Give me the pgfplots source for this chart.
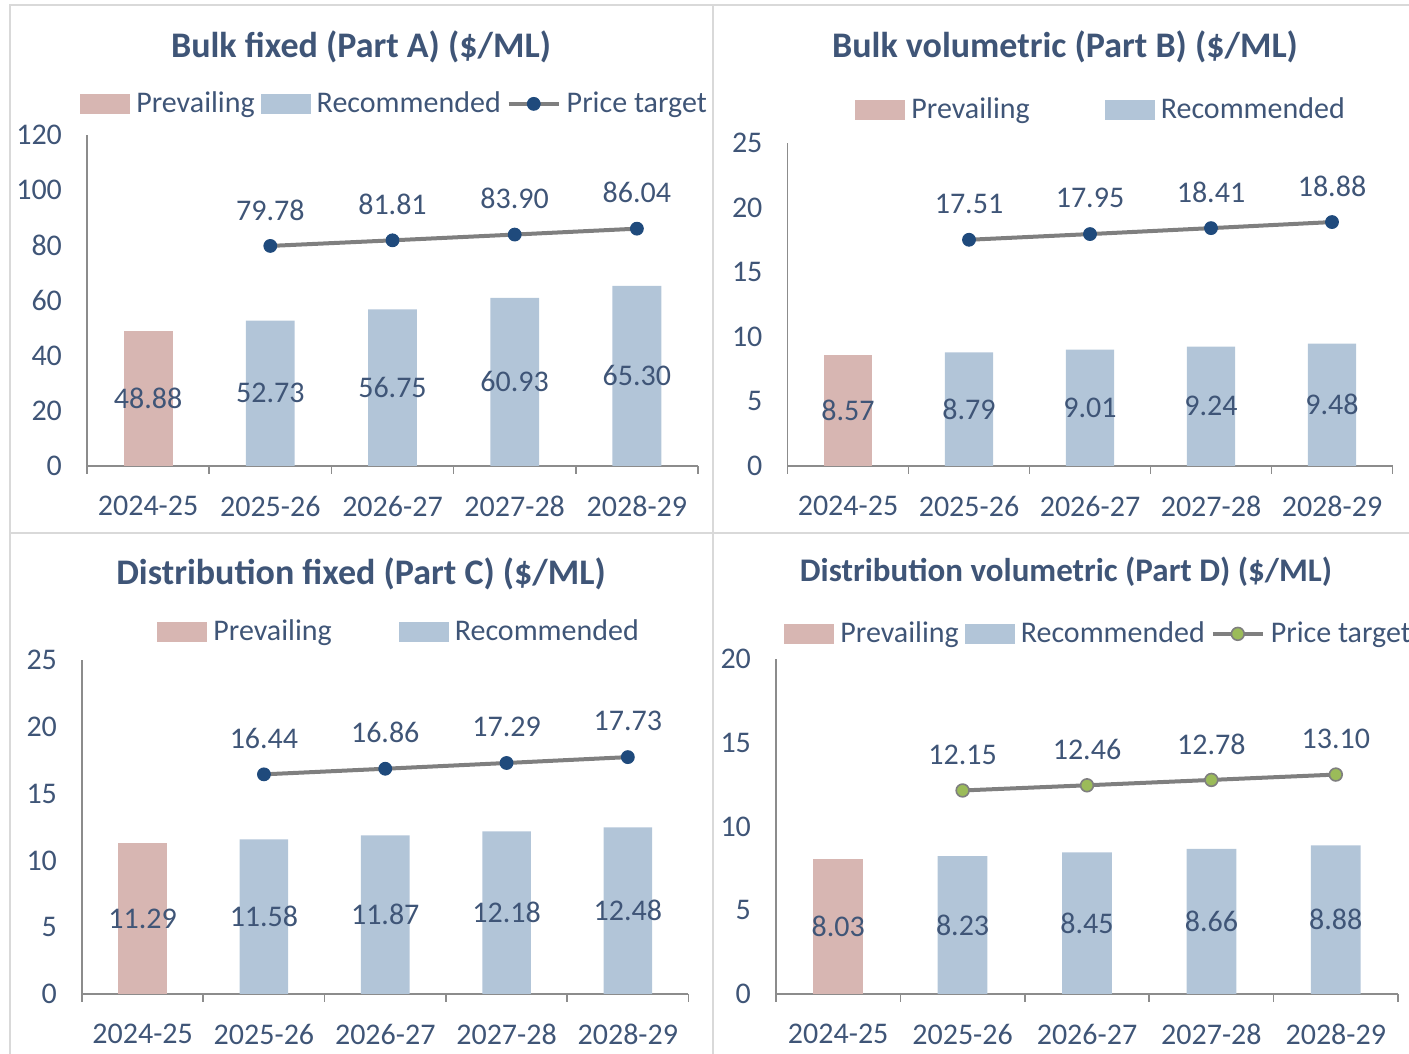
\documentclass[border=0pt]{standalone}
\usepackage{fontspec}
\setmainfont{Carlito}
\usepackage{pgfplots}
\pgfplotsset{compat=1.18}

\definecolor{prevc}{HTML}{D7B6B2}
\definecolor{recc}{HTML}{B2C5D8}
\definecolor{textc}{HTML}{3F5577}
\definecolor{linec}{HTML}{7F7F7F}
\definecolor{markc}{HTML}{1F4A7C}
\definecolor{greenc}{HTML}{9BBB59}
\definecolor{axisc}{HTML}{8C8C8C}
\definecolor{framec}{HTML}{D9D9D9}

\pgfplotsset{
  panel/.style={
    scale only axis, anchor=south west, clip=false,
    xmin=-0.5, xmax=4.5, ymin=0,
    axis x line*=bottom, axis y line*=left,
    axis line style={draw=axisc, line width=0.8pt},
    xtick={-0.5,0.5,...,4.5},
    x tick label as interval,
    xticklabels={2024-25,2025-26,2026-27,2027-28,2028-29},
    tick align=outside, major tick length=4pt,
    xtick style={draw=axisc, line width=0.8pt},
    ytick style={draw=none},
    font=\fontsize{15}{18}\selectfont,
    tick label style={text=textc},
    xticklabel style={yshift=-7.5pt},
    yticklabel style={xshift=-5pt},
    /pgf/number format/assume math mode=true,
    legend style={draw=none, fill=none, anchor=west, legend columns=-1,
      inner xsep=0pt, inner ysep=0pt, text=textc,
      nodes={inner xsep=3pt, inner ysep=1pt}},
  },
  barleg/.style={legend image code/.code={\path[##1,draw=none] (0pt,-5pt) rectangle (25pt,5pt);}},
  lineleg/.style={legend image code/.code={\draw[mark repeat=2,mark phase=2,##1] plot coordinates {(0pt,0pt) (12.5pt,0pt) (25pt,0pt)};}},
  prevbar/.style={ybar, bar width=0.4, bar shift=0pt, fill=prevc, draw=none, barleg, barlab},
  recbar/.style={ybar, bar width=0.4, bar shift=0pt, fill=recc, draw=none, barleg, barlab},
  barlab/.style={
    nodes near coords={\pgfmathprintnumber[fixed,fixed zerofill,precision=2]{\pgfplotspointmeta}},
    visualization depends on={y \as \rawy},
    every node near coord/.append style={anchor=center, text=textc, shift={(axis direction cs:0,-\rawy/2)}}},
  target/.style={linec, line width=2pt, mark=*, mark size=3.2pt,
    mark options={fill=markc, draw=markc, line width=0.5pt}, lineleg,
    nodes near coords={\pgfmathprintnumber[fixed,fixed zerofill,precision=2]{\pgfplotspointmeta}},
    every node near coord/.append style={anchor=center, yshift=18pt, text=textc}},
}

\begin{document}
\begin{tikzpicture}
\useasboundingbox (0pt,0pt) rectangle (704.5pt,527pt);
\clip (0pt,0pt) rectangle (704.5pt,527pt);

% panel frames
\draw[framec, line width=0.6pt] (5pt,0pt) -- (5pt,524.5pt) -- (704.5pt,524.5pt);
\draw[framec, line width=0.6pt] (356.5pt,0pt) -- (356.5pt,524.5pt);
\draw[framec, line width=0.6pt] (5pt,260.5pt) -- (704.5pt,260.5pt);

\tikzset{ttl/.style={font=\bfseries\fontsize{18}{22}\selectfont, text=textc}}
\node[ttl] at (180.5pt,503.5pt) {Bulk fixed (Part A) (\$/ML)};
\node[ttl] at (532.5pt,503.5pt) {Bulk volumetric (Part B) (\$/ML)};
\node[ttl] at (180.5pt,240pt) {Distribution fixed (Part C) (\$/ML)};
\node[ttl, font=\bfseries\fontsize{16.5}{20}\selectfont] at (533pt,241pt) {Distribution volumetric (Part D) (\$/ML)};

% Part A
\begin{axis}[panel, at={(43.5pt,294pt)}, width=305.5pt, height=165.5pt,
  ymax=120, ytick={0,20,...,120},
  legend style={at={(-0.0115,1.094)}, /tikz/every even column/.append style={column sep=0pt}}]
\addplot[prevbar] coordinates {(0,48.88)};
\addplot[recbar] coordinates {(1,52.73) (2,56.75) (3,60.93) (4,65.30)};
\addplot[target] coordinates {(1,79.78) (2,81.81) (3,83.90) (4,86.04)};
\legend{Prevailing, Recommended, Price target}
\end{axis}

% Part B
\begin{axis}[panel, at={(393.75pt,294pt)}, width=302.5pt, height=161.5pt,
  ymax=25, ytick={0,5,...,25},
  legend style={at={(0.1116,1.102)}, /tikz/every even column/.append style={column sep=34.5pt}}]
\addplot[prevbar] coordinates {(0,8.57)};
\addplot[recbar] coordinates {(1,8.79) (2,9.01) (3,9.24) (4,9.48)};
\addplot[target, forget plot] coordinates {(1,17.51) (2,17.95) (3,18.41) (4,18.88)};
\legend{Prevailing, Recommended}
\end{axis}

% Part C
\begin{axis}[panel, at={(41pt,30pt)}, width=303.25pt, height=167pt,
  ymax=25, ytick={0,5,...,25},
  legend style={at={(0.1237,1.084)}, /tikz/every even column/.append style={column sep=30.5pt}}]
\addplot[prevbar] coordinates {(0,11.29)};
\addplot[recbar] coordinates {(1,11.58) (2,11.87) (3,12.18) (4,12.48)};
\addplot[target, forget plot] coordinates {(1,16.44) (2,16.86) (3,17.29) (4,17.73)};
\legend{Prevailing, Recommended}
\end{axis}

% Part D
\begin{axis}[panel, at={(388pt,30pt)}, width=311pt, height=167.5pt,
  ymax=20, ytick={0,5,...,20},
  legend style={at={(0.0129,1.075)}, /tikz/every even column/.append style={column sep=0pt}}]
\addplot[prevbar] coordinates {(0,8.03)};
\addplot[recbar] coordinates {(1,8.23) (2,8.45) (3,8.66) (4,8.88)};
\addplot[target, mark options={fill=greenc, draw=linec, line width=0.8pt}] coordinates {(1,12.15) (2,12.46) (3,12.78) (4,13.10)};
\legend{Prevailing, Recommended, Price target}
\end{axis}
\end{tikzpicture}
\end{document}
